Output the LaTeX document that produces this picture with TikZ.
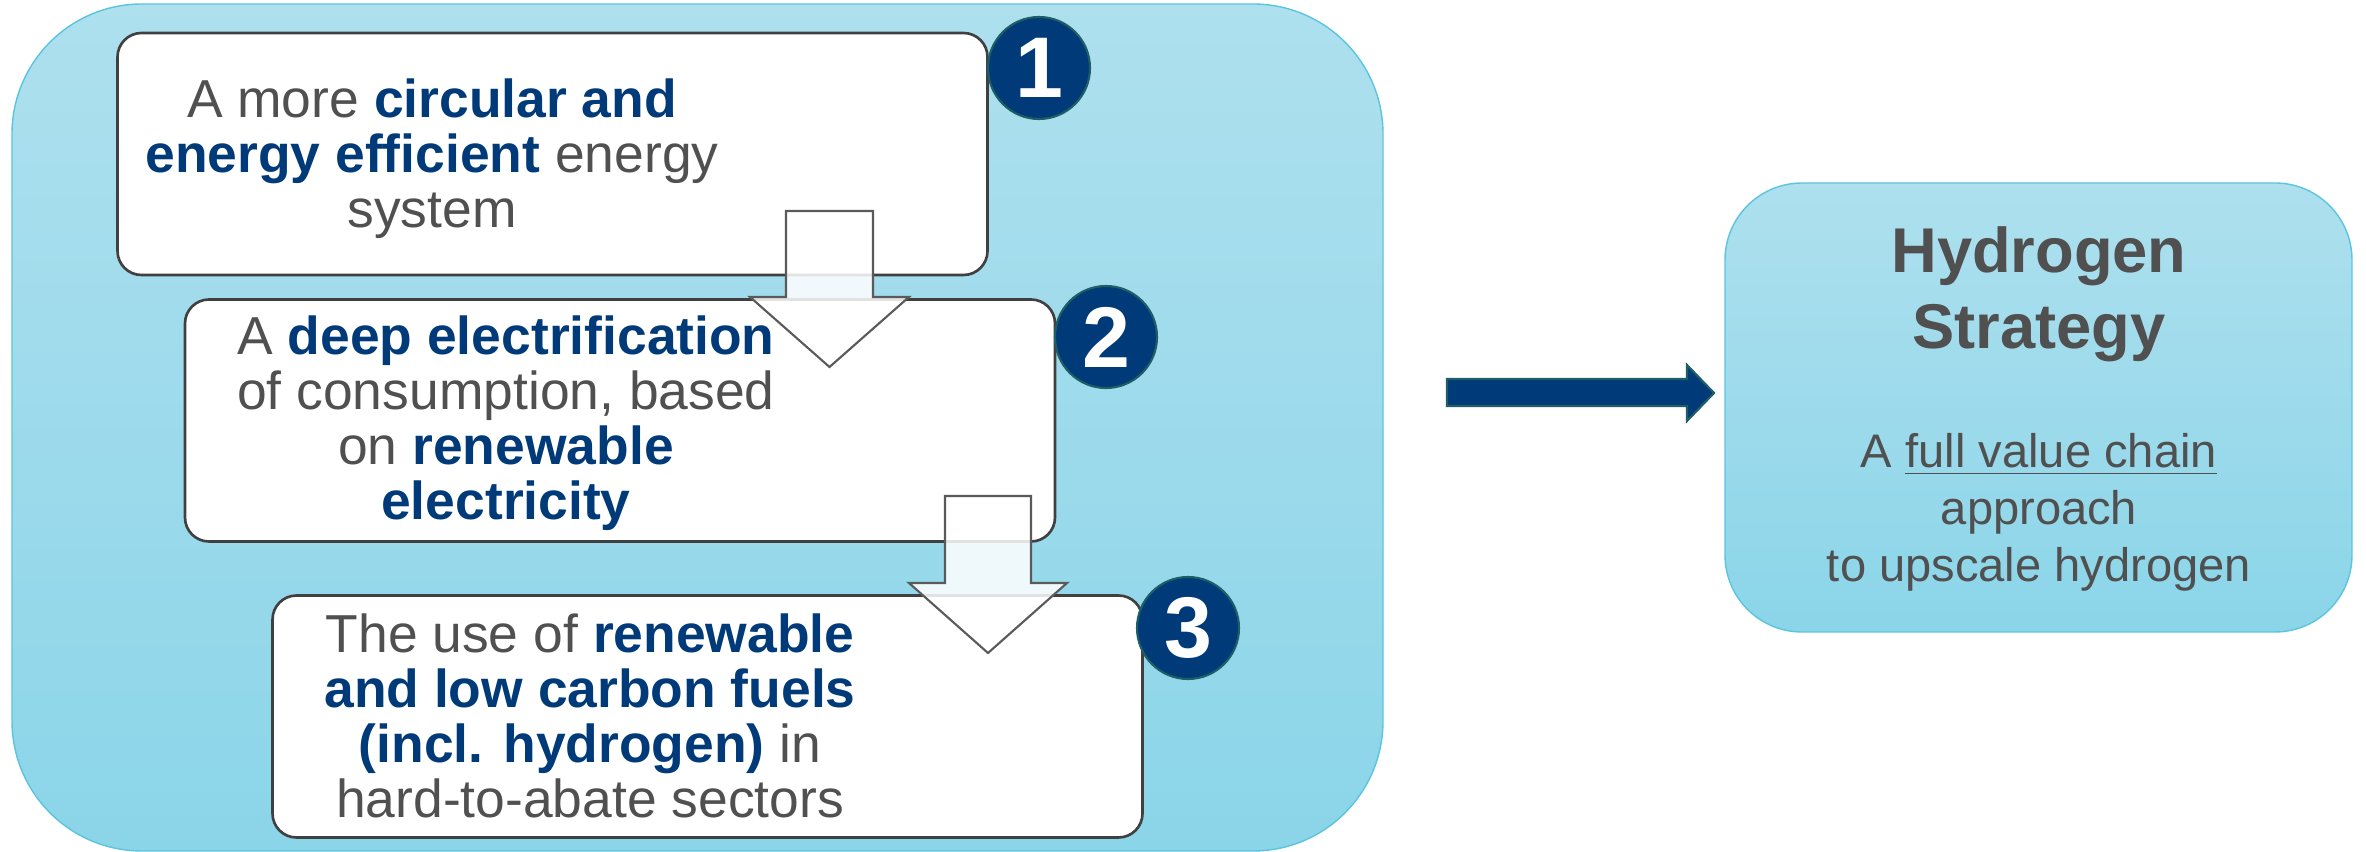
\documentclass[tikz,border=0pt]{standalone}
\usepackage{fontspec}
\setmainfont{Liberation Sans}
\usepackage{xcolor}
\usetikzlibrary{arrows.meta}
\definecolor{panelTop}{HTML}{AEE0EE}
\definecolor{panelBot}{HTML}{8BD5E9}
\definecolor{panelLine}{HTML}{5BC4DF}
\definecolor{navy}{HTML}{003A78}
\definecolor{tealLine}{HTML}{1E5E66}
\definecolor{txtGray}{HTML}{505050}
\definecolor{boxLine}{HTML}{404040}
\definecolor{arrowLine}{HTML}{5A5A5A}
\newcommand{\kw}[1]{\textbf{\color{navy}#1}}

\begin{document}
\begin{tikzpicture}[
  stepbox/.style={draw=boxLine, line width=0.75pt, fill=white, rounded corners=0.24cm, minimum width=8.7cm, minimum height=2.42cm},
  numdot/.style={circle, fill=navy, draw=tealLine, line width=0.6pt, minimum size=1.02cm, inner sep=0pt, text=white, font=\fontsize{24.5}{24.5}\selectfont\bfseries},
  steptext/.style={anchor=north, align=center, inner sep=0pt, text=txtGray, font=\fontsize{15.2}{15.65}\selectfont},
  blockdown/.style={draw=arrowLine, line width=0.6pt, fill=white, fill opacity=0.85}]
  \useasboundingbox (0,0) rectangle (23.66,-8.52);
  % left panel with the three steps
  \node[draw=panelLine, line width=0.4pt, top color=panelTop, bottom color=panelBot, rounded corners=1.3cm, minimum width=13.71cm, minimum height=8.47cm] (panel) at (6.975,-4.275) {};
  \node[stepbox] (step1) at (5.525,-1.54) {};
  \node[stepbox] (step2) at (6.20,-4.205) {};
  \node[stepbox] (step3) at (7.075,-7.165) {};
  \node[steptext] (txt1) at (4.32,-0.78) {A more \kw{circular and}\\\kw{energy efficient} energy\\system};
  \node[steptext] (txt2) at (5.06,-3.15) {A \kw{deep electrification}\\of consumption, based\\on \kw{renewable}\\\kw{electricity}};
  \node[steptext] (txt3) at (5.90,-6.13) {The use of \kw{renewable}\\\kw{and low carbon fuels}\\\kw{(incl. hydrogen)} in\\hard-to-abate sectors};
  \node[numdot] (num1) at (10.39,-0.68) {1};
  \node[numdot] (num2) at (11.06,-3.37) {2};
  \node[numdot] (num3) at (11.88,-6.28) {3};
  % down arrows between the steps
  \draw[blockdown] (7.86,-2.11) -- (8.73,-2.11) -- (8.73,-2.97) -- (9.09,-2.97) -- (8.295,-3.67) -- (7.50,-2.97) -- (7.86,-2.97) -- cycle;
  \draw[blockdown] (9.45,-4.96) -- (10.31,-4.96) -- (10.31,-5.83) -- (10.67,-5.83) -- (9.88,-6.53) -- (9.09,-5.83) -- (9.45,-5.83) -- cycle;
  % right box
  \node[draw=panelLine, line width=0.4pt, top color=panelTop, bottom color=panelBot, rounded corners=0.77cm, minimum width=6.27cm, minimum height=4.49cm] (strategy) at (20.385,-4.075) {};
  \node[anchor=north, align=center, inner sep=0pt, text=txtGray, font=\fontsize{18}{21.6}\selectfont\bfseries] (title) at (20.39,-2.26) {Hydrogen\\Strategy};
  \node[anchor=north, align=center, inner sep=0pt, text=txtGray, font=\fontsize{13.4}{16.2}\selectfont] (subtitle) at (20.39,-4.33) {A \underline{full value chain}\\approach\\to upscale hydrogen};
  % big arrow
  \draw[fill=navy, draw=tealLine, line width=0.6pt] (14.47,-3.79) -- (16.87,-3.79) -- (16.87,-3.65) -- (17.14,-3.93) -- (16.87,-4.21) -- (16.87,-4.06) -- (14.47,-4.06) -- cycle;
\end{tikzpicture}
\end{document}
